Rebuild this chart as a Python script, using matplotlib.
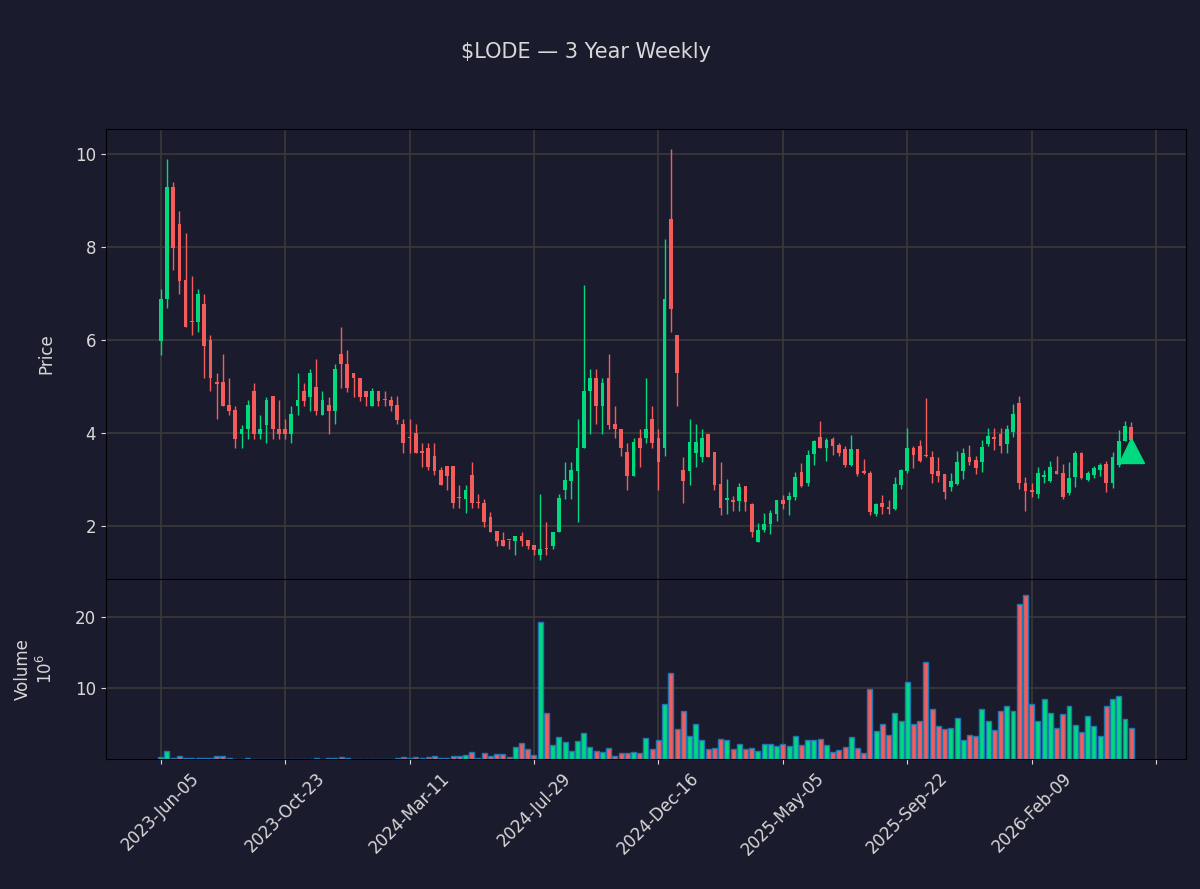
import numpy as np
import pandas as pd
import matplotlib
matplotlib.use('Agg')
import matplotlib.pyplot as plt

# weekly OHLC (first week 2023-06-05)
opens = [5.97, 6.88, 9.29, 8.49, 7.29, 6.40, 6.39, 6.78, 5.99, 5.08,
         5.09, 4.59, 4.49, 3.98, 4.08, 4.90, 3.97, 4.16, 4.79, 4.09,
         4.09, 3.97, 4.58, 4.90, 4.77, 4.98, 4.38, 4.59, 4.47, 5.69,
         5.49, 5.28, 5.19, 4.90, 4.58, 4.90, 4.71, 4.70, 4.59, 4.18,
         3.89, 3.99, 3.58, 3.68, 3.50, 3.19, 3.28, 3.28, 2.60, 2.58,
         3.09, 2.49, 2.48, 2.18, 1.89, 1.69, 1.70, 1.67, 1.79, 1.69,
         1.58, 1.37, 1.50, 1.57, 1.87, 2.78, 2.96, 3.18, 3.68, 4.90,
         5.19, 4.58, 5.19, 4.18, 4.09, 3.58, 3.07, 3.88, 3.88, 4.29,
         3.88, 3.68, 8.60, 6.10, 3.19, 3.18, 3.57, 3.48, 3.98, 3.58,
         2.89, 2.55, 2.55, 2.53, 2.85, 2.46, 1.64, 1.90, 2.03, 2.25,
         2.55, 2.55, 2.62, 3.15, 2.91, 3.54, 3.91, 3.68, 3.87, 3.73,
         3.65, 3.30, 3.65, 3.17, 3.13, 2.25, 2.48, 2.41, 2.36, 2.87,
         3.18, 3.67, 3.71, 3.52, 3.48, 3.18, 3.11, 2.83, 2.90, 3.18,
         3.48, 3.41, 3.37, 3.76, 3.89, 3.97, 3.76, 4.01, 4.64, 2.92,
         2.77, 2.68, 3.05, 2.96, 3.18, 3.13, 2.70, 3.05, 3.56, 2.98,
         3.09, 3.20, 3.33, 2.92, 3.30, 3.82, 4.12]
closes = [6.89, 9.29, 7.98, 7.27, 6.28, 6.38, 6.98, 5.87, 5.18, 5.06,
          4.58, 4.47, 3.87, 4.09, 4.59, 3.97, 4.09, 4.70, 4.08, 3.97,
          3.97, 4.40, 4.70, 4.69, 5.28, 4.47, 4.70, 4.47, 5.38, 5.49,
          4.97, 5.18, 4.77, 4.77, 4.90, 4.69, 4.70, 4.58, 4.27, 3.78,
          3.88, 3.57, 3.57, 3.27, 3.18, 2.88, 3.07, 2.48, 2.59, 2.78,
          2.48, 2.48, 2.09, 1.87, 1.67, 1.57, 1.69, 1.79, 1.67, 1.57,
          1.48, 1.49, 1.49, 1.87, 2.59, 2.98, 3.19, 3.68, 4.90, 5.19,
          4.58, 5.08, 4.16, 4.08, 3.68, 3.07, 3.80, 3.68, 4.09, 3.78,
          3.37, 6.89, 6.66, 5.28, 2.96, 3.80, 3.80, 3.88, 3.48, 2.88,
          2.38, 2.59, 2.51, 2.83, 2.51, 1.86, 1.90, 2.03, 2.27, 2.55,
          2.46, 2.64, 3.05, 2.86, 3.52, 3.82, 3.67, 3.84, 3.71, 3.56,
          3.30, 3.65, 3.11, 3.13, 2.29, 2.46, 2.40, 2.36, 2.89, 3.19,
          3.67, 3.52, 3.39, 3.50, 3.11, 3.07, 2.72, 2.96, 3.37, 3.56,
          3.37, 3.24, 3.69, 3.93, 3.87, 3.71, 4.08, 4.40, 2.92, 2.75,
          2.72, 3.13, 3.09, 3.26, 3.11, 2.62, 3.03, 3.56, 3.03, 3.13,
          3.24, 3.30, 2.92, 3.48, 3.82, 4.14, 3.84]
highs = [7.09, 9.89, 9.39, 8.78, 8.29, 7.38, 7.09, 6.98, 6.10, 5.28,
         5.69, 5.19, 4.58, 4.16, 4.70, 5.08, 4.39, 4.77, 4.79, 4.70,
         4.29, 4.58, 5.28, 5.08, 5.38, 5.58, 4.90, 4.77, 5.49, 6.28,
         5.79, 5.28, 5.19, 4.90, 4.97, 4.90, 4.90, 4.79, 4.79, 4.29,
         4.29, 4.18, 3.78, 3.78, 3.78, 3.27, 3.28, 3.28, 2.88, 2.88,
         3.37, 2.68, 2.58, 2.29, 1.89, 1.87, 1.70, 1.79, 1.87, 1.69,
         1.58, 2.68, 2.09, 1.87, 2.68, 3.37, 3.37, 4.29, 7.19, 5.38,
         5.38, 5.19, 5.69, 4.58, 4.09, 3.78, 3.88, 4.09, 5.19, 4.58,
         4.09, 8.18, 10.10, 6.10, 3.49, 4.29, 4.18, 4.09, 3.98, 3.58,
         3.37, 3.00, 2.64, 2.91, 2.85, 2.49, 2.07, 2.28, 2.33, 2.55,
         2.67, 2.72, 3.15, 3.36, 3.62, 3.85, 4.26, 3.89, 3.91, 3.78,
         3.71, 3.95, 3.65, 3.43, 3.17, 2.50, 2.67, 2.55, 3.06, 3.23,
         4.11, 3.71, 3.84, 4.74, 3.60, 3.47, 3.11, 3.13, 3.60, 3.67,
         3.73, 3.51, 3.84, 4.11, 4.11, 4.10, 4.16, 4.63, 4.79, 3.05,
         2.92, 3.26, 3.20, 3.39, 3.51, 3.32, 3.38, 3.61, 3.58, 3.18,
         3.28, 3.35, 3.39, 3.58, 4.06, 4.25, 4.23]
lows = [5.68, 6.68, 7.50, 6.98, 6.28, 6.10, 6.17, 5.19, 4.90, 4.29,
        4.58, 4.39, 3.68, 3.68, 3.87, 3.87, 3.87, 3.79, 3.87, 3.87,
        3.87, 3.79, 4.39, 4.58, 4.47, 4.39, 4.38, 3.98, 4.18, 4.97,
        4.88, 4.77, 4.69, 4.58, 4.58, 4.58, 4.58, 4.47, 4.18, 3.57,
        3.57, 3.57, 3.27, 3.20, 3.09, 2.88, 2.78, 2.39, 2.39, 2.28,
        2.39, 2.39, 1.98, 1.87, 1.57, 1.57, 1.49, 1.38, 1.57, 1.49,
        1.38, 1.27, 1.38, 1.49, 1.87, 2.58, 2.58, 2.09, 3.68, 3.98,
        4.18, 3.98, 4.09, 3.88, 3.50, 2.78, 3.07, 3.27, 3.78, 3.68,
        2.78, 3.50, 6.17, 4.58, 2.48, 2.88, 3.27, 3.37, 3.48, 2.78,
        2.24, 2.26, 2.32, 2.32, 2.32, 1.75, 1.64, 1.87, 1.83, 2.10,
        2.36, 2.23, 2.55, 2.84, 2.86, 3.30, 3.67, 3.40, 3.52, 3.50,
        3.27, 3.28, 3.07, 3.11, 2.23, 2.21, 2.26, 2.26, 2.33, 2.79,
        3.13, 3.25, 3.37, 3.48, 2.92, 2.95, 2.58, 2.75, 2.87, 3.00,
        3.30, 3.12, 3.16, 3.71, 3.64, 3.57, 3.56, 3.91, 2.80, 2.32,
        2.61, 2.60, 2.92, 2.94, 3.11, 2.57, 2.66, 2.83, 3.00, 2.96,
        3.03, 3.07, 2.73, 2.81, 3.26, 3.82, 3.84]
# volume in millions of shares
volumes = [0.3, 1.2, 0.1, 0.4, 0.15, 0.15, 0.15, 0.15, 0.15, 0.5,
           0.4, 0.15, 0.05, 0.05, 0.2, 0.05, 0.05, 0.05, 0.05, 0.05,
           0.05, 0.05, 0.05, 0.05, 0.05, 0.2, 0.05, 0.15, 0.2, 0.3,
           0.15, 0.05, 0.05, 0.05, 0.05, 0.05, 0.05, 0.05, 0.1, 0.3,
           0.1, 0.3, 0.1, 0.3, 0.5, 0.1, 0.1, 0.5, 0.5, 0.6,
           1.0, 0.2, 0.8, 0.5, 0.7, 0.7, 0.3, 1.7, 2.3, 1.5,
           0.6, 19.3, 6.5, 2.0, 3.1, 2.4, 1.2, 2.6, 3.7, 1.7,
           1.2, 1.0, 1.6, 0.5, 0.9, 0.9, 1.0, 0.9, 3.0, 1.4,
           2.7, 7.7, 12.1, 4.3, 6.7, 3.3, 5.0, 2.7, 1.4, 1.6,
           2.9, 2.7, 1.5, 2.2, 1.4, 1.6, 1.1, 2.2, 2.2, 1.9,
           2.2, 1.8, 3.3, 2.0, 2.7, 2.7, 2.9, 2.0, 1.0, 1.3,
           1.7, 3.1, 1.6, 0.9, 9.9, 4.0, 5.0, 3.4, 6.5, 5.4,
           10.8, 5.0, 5.4, 13.6, 7.1, 4.7, 4.3, 4.4, 5.8, 2.7,
           3.4, 3.3, 7.1, 5.4, 4.1, 6.7, 7.5, 6.7, 21.7, 23.0,
           7.7, 5.3, 8.4, 6.5, 4.4, 6.4, 7.4, 4.8, 3.8, 6.0,
           4.6, 3.3, 7.5, 8.5, 8.8, 5.7, 4.4]
signal_price = 3.63

dates = pd.date_range('2023-06-05', periods=len(opens), freq='7D')

bg = '#1b1b2e'
up = '#00d97e'
down = '#f45b5b'
txt = '#d8d8d8'
gridc = '#3a3a3a'

fig = plt.figure(figsize=(12, 8.89), dpi=100, facecolor=bg)
ax = fig.add_axes([0.0883, 0.349, 0.9, 0.506])
axv = fig.add_axes([0.0883, 0.146, 0.9, 0.203], sharex=ax)

x = np.arange(len(opens))
o = np.array(opens); c = np.array(closes)
cols = np.where(c >= o, up, down)

# candles
ax.vlines(x, lows, highs, colors=cols, linewidth=1, zorder=2)
ax.bar(x, np.maximum(np.abs(c - o), 0.03), bottom=np.minimum(o, c), width=0.6,
       color=cols, zorder=3)
ax.plot(x[-1], signal_price, marker='^', color=up, markersize=18, zorder=4)

# volume
axv.bar(x, volumes, width=0.8, color=cols, edgecolor='#1f77b4', linewidth=1, zorder=3)

for a in (ax, axv):
    a.set_facecolor(bg)
    a.grid(True, color=gridc, linewidth=1.2)
    a.set_axisbelow(True)
    for s in a.spines.values():
        s.set_color('black')
    a.tick_params(colors=txt, labelsize=12)

ax.set_xlim(-8.8, len(opens) - 1 + 8.8)
ax.set_ylim(0.86, 10.54)
ax.set_yticks([2, 4, 6, 8, 10])
axv.set_ylim(0, 25.3)
axv.set_yticks([10, 20])

ticks = np.arange(0, 161, 20)
labels = [dates[i].strftime('%Y-%b-%d') if i < len(dates) else '' for i in ticks]
axv.set_xticks(ticks)
axv.set_xticklabels(labels, rotation=45, ha='center')
ax.tick_params(labelbottom=False)

ax.set_ylabel('Price', color=txt, fontsize=12, labelpad=14)
axv.set_ylabel('Volume\n$10^6$', color=txt, fontsize=12, labelpad=14)
fig.text(0.488, 0.941, '$LODE — 3 Year Weekly', ha='center', va='center',
         color=txt, fontsize=15)

plt.savefig('out.png', dpi=100, facecolor=bg)
